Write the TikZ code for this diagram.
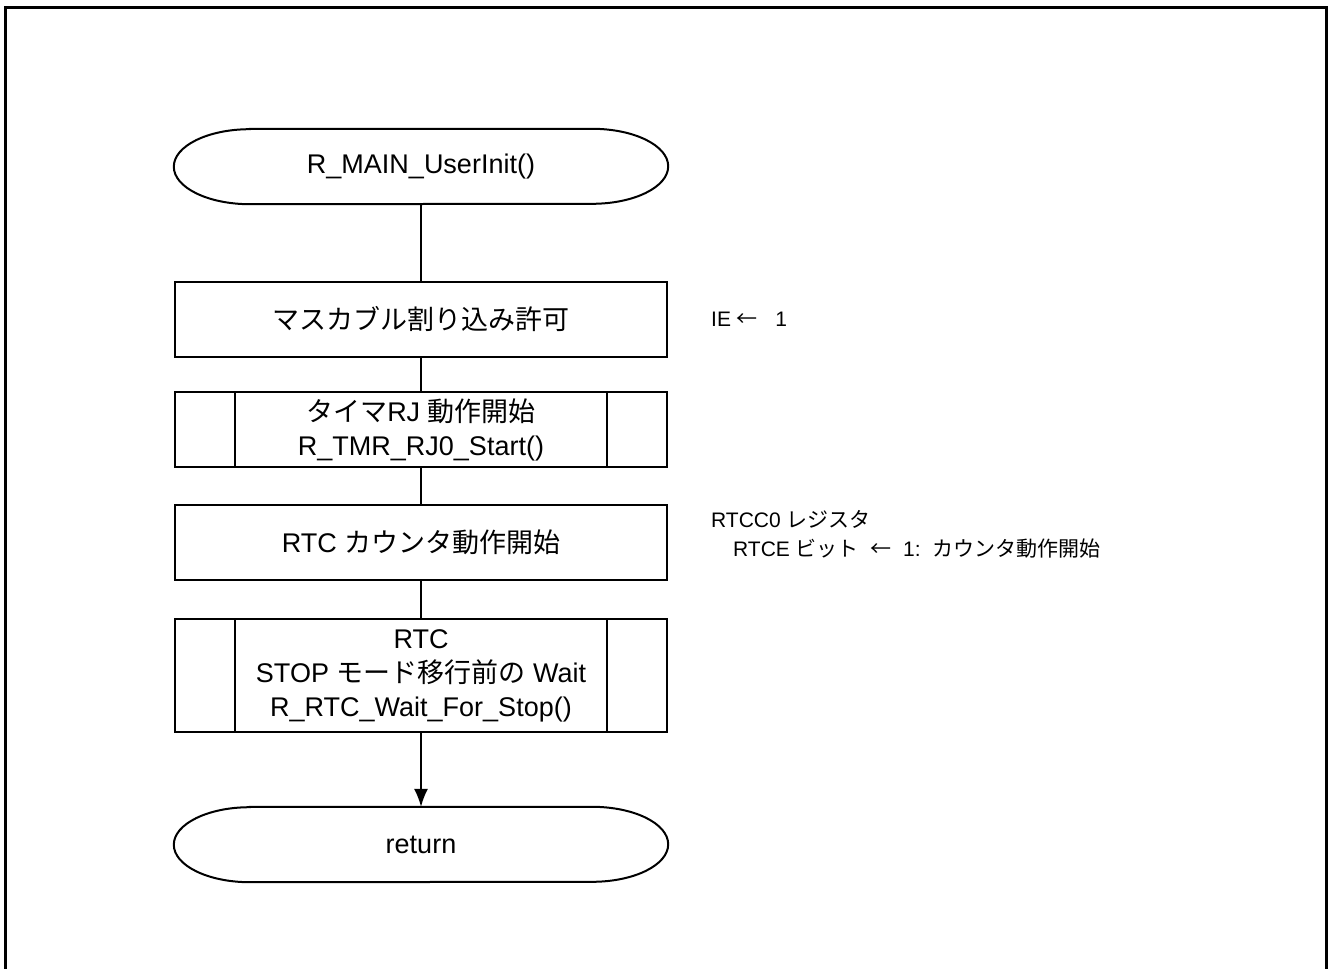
\documentclass[tikz,border=0pt]{standalone}
\usepackage{fontspec}
\setmainfont{Liberation Sans}
\newfontfamily\jp{Noto Sans CJK JP}
\usetikzlibrary{arrows.meta}

\tikzstyle{terminal} = [rectangle, minimum width=494pt, minimum height=75pt,
                        text centered, font=\fontsize{27}{34}\selectfont]
\tikzstyle{myprocess} = [rectangle, draw, line width=2pt, minimum width=492pt,
                         minimum height=75pt, text centered, align=center,
                         font=\fontsize{27}{34}\selectfont]
\tikzstyle{subroutine} = [myprocess]
\tikzstyle{comment} = [anchor=west, inner sep=0pt, align=left,
                       font=\fontsize{21}{29}\selectfont]
\tikzstyle{line} = [draw, line width=1.6pt]

\begin{document}
\begin{tikzpicture}[x=1pt,y=1pt]
    \useasboundingbox (0,0) rectangle (1328,-969);
    \draw[line width=3pt] (5,-975) -- (5,-7) -- (1326,-7) -- (1326,-975);

    \node[terminal](UserInit) at (421,-166.5){R\_MAIN\_UserInit()};
    \node[myprocess, below of=UserInit, node distance=152.5pt]
            (IntEnable){{\jp マスカブル割り込み許可}};
    \node[subroutine, below of=IntEnable, node distance=110.5pt]
            (TimerStart){{\jp タイマ}RJ {\jp 動作開始}\\R\_TMR\_RJ0\_Start()};
    \node[myprocess, below of=TimerStart, node distance=113pt]
            (RTCStart){RTC {\jp カウンタ動作開始}};
    \node[subroutine, below of=RTCStart, node distance=133pt,
          minimum height=113pt]
            (RTCWait){RTC\\STOP {\jp モード移行前の} Wait\\R\_RTC\_Wait\_For\_Stop()};
    \node[terminal, below of=RTCWait, node distance=169pt](Return){return};

    \node[comment] (IEMemo) at ([xshift=43pt]IntEnable.east){IE {\jp ←}\ \ \ 1};
    \node[comment] (RTCMemo) at ([xshift=43pt,yshift=8pt]RTCStart.east){
            RTCC0 {\jp レジスタ}\\
            \hspace*{22pt}RTCE {\jp ビット}\ \ {\jp ←}\ \ 1:\ \ {\jp カウンタ動作開始}
        };

    \foreach \t in {UserInit,Return}
        \draw[line width=2pt] ([xshift=76pt]\t.north west) -- ([xshift=-76pt]\t.north east)
            arc[start angle=90, end angle=-90, x radius=76pt, y radius=37.5pt]
            -- ([xshift=76pt]\t.south west)
            arc[start angle=270, end angle=90, x radius=76pt, y radius=37.5pt] -- cycle;

    \foreach \s in {TimerStart,RTCWait} {
        \draw[line width=2pt] ([xshift=61pt]\s.north west) -- ([xshift=61pt]\s.south west);
        \draw[line width=2pt] ([xshift=-61pt]\s.north east) -- ([xshift=-61pt]\s.south east);
    }

    \path[line](UserInit) -- (IntEnable);
    \path[line](IntEnable) -- (TimerStart);
    \path[line](TimerStart) -- (RTCStart);
    \path[line](RTCStart) -- (RTCWait);
    \path[line,-{Latex[length=18pt,width=14pt]}](RTCWait) -- (Return);
\end{tikzpicture}
\end{document}
